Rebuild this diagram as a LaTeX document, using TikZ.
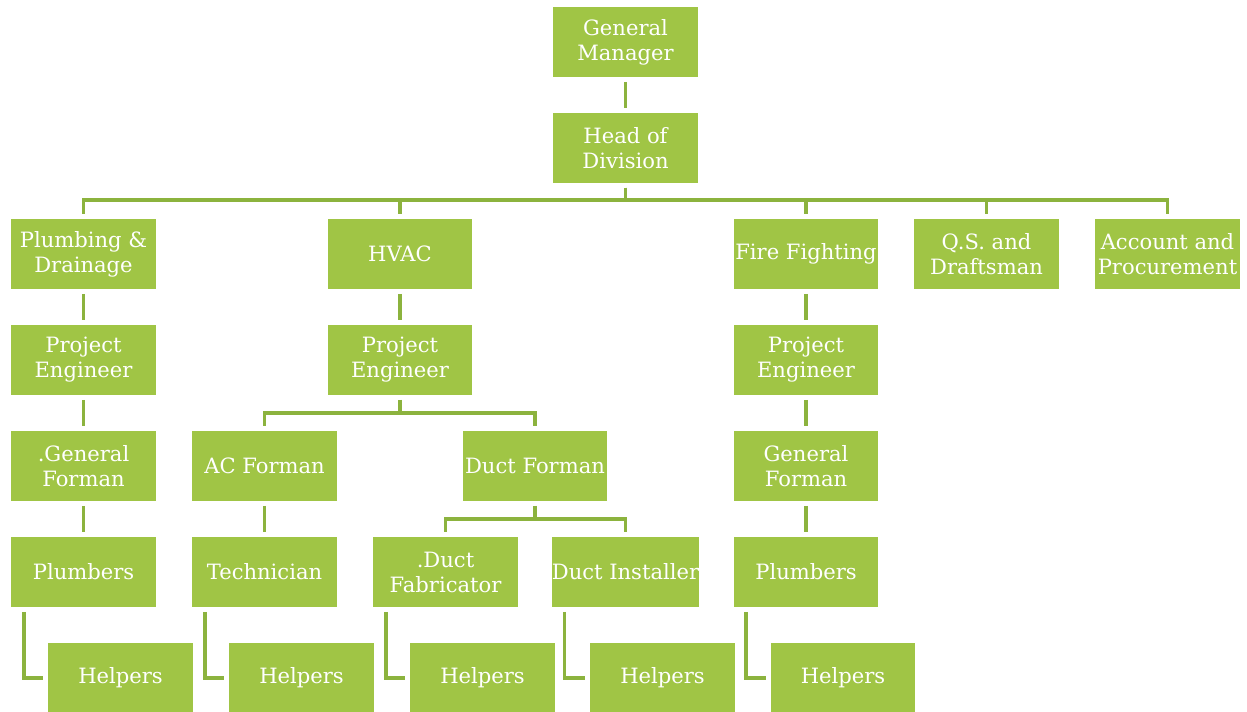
\documentclass[tikz,border=0pt]{standalone}
\usepackage{fontspec}
\setmainfont{DejaVu Serif}
\definecolor{boxgreen}{HTML}{A0C545}
\definecolor{linegreen}{HTML}{8CB33E}
\tikzset{
  box/.style={fill=boxgreen, text=white, align=center, inner sep=0pt,
    minimum width=2.9cm, minimum height=1.4cm,
    font=\fontsize{12}{14.2}\selectfont},
  link/.style={draw=linegreen, line width=2.2pt, shorten <=0.09cm, shorten >=0.09cm},
}
\begin{document}
\begin{tikzpicture}[x=0.02cm, y=-0.02cm]
      \useasboundingbox (0,0) rectangle (1247,711);

      % Topo
      \node[box] (gm)  at (625.5,42)  {General\\Manager};
      \node[box] (hod) at (625.5,148) {Head of\\Division};

      % Divisoes
      \node[box] (pd)  at (83.5,254)   {Plumbing \&\\Drainage};
      \node[box] (hv)  at (400,254)    {HVAC};
      \node[box] (ff)  at (806,254)    {Fire Fighting};
      \node[box] (qs)  at (986.5,254)  {Q.S. and\\Draftsman};
      \node[box] (acc) at (1167.5,254) {Account and\\Procurement};

      % Engenheiros
      \node[box] (pe1) at (83.5,360) {Project\\Engineer};
      \node[box] (pe2) at (400,360)  {Project\\Engineer};
      \node[box] (pe3) at (806,360)  {Project\\Engineer};

      % Formans
      \node[box] (gf1) at (83.5,466)  {.General\\Forman};
      \node[box] (acf) at (264.5,466) {AC Forman};
      \node[box] (dcf) at (535,466)   {Duct Forman};
      \node[box] (gf2) at (806,466)   {General\\Forman};

      % Equipes
      \node[box] (pl1) at (83.5,572)  {Plumbers};
      \node[box] (tec) at (264.5,572) {Technician};
      \node[box] (fab) at (445.5,572) {.Duct\\Fabricator};
      \node[box] (ins) at (625.5,572) {Duct Installer};
      \node[box] (pl2) at (806,572)   {Plumbers};

      % Ajudantes
      \node[box] (hl1) at (120.5,678) {Helpers};
      \node[box] (hl2) at (301.5,678) {Helpers};
      \node[box] (hl3) at (482.5,678) {Helpers};
      \node[box] (hl4) at (662.5,678) {Helpers};
      \node[box] (hl5) at (843,678)   {Helpers};

      % Ligacoes
      \draw[link] (gm) -- (hod);
      \foreach \c in {pd,hv,ff,qs,acc}
        \draw[link] (hod.south) -- ++(0,17) -| (\c.north);
      \draw[link] (pd) -- (pe1);
      \draw[link] (hv) -- (pe2);
      \draw[link] (ff) -- (pe3);
      \draw[link] (pe1) -- (gf1);
      \draw[link] (pe3) -- (gf2);
      \foreach \c in {acf,dcf}
        \draw[link] (pe2.south) -- ++(0,18) -| (\c.north);
      \foreach \c in {fab,ins}
        \draw[link] (dcf.south) -- ++(0,18) -| (\c.north);
      \draw[link] (gf1) -- (pl1);
      \draw[link] (acf) -- (tec);
      \draw[link] (gf2) -- (pl2);

      % Cotovelos
      \draw[link] ([xshift=0.26cm]pl1.south west) |- (hl1.west);
      \draw[link] ([xshift=0.26cm]tec.south west) |- (hl2.west);
      \draw[link] ([xshift=0.26cm]fab.south west) |- (hl3.west);
      \draw[link] ([xshift=0.26cm]ins.south west) |- (hl4.west);
      \draw[link] ([xshift=0.26cm]pl2.south west) |- (hl5.west);

    \end{tikzpicture}
\end{document}
